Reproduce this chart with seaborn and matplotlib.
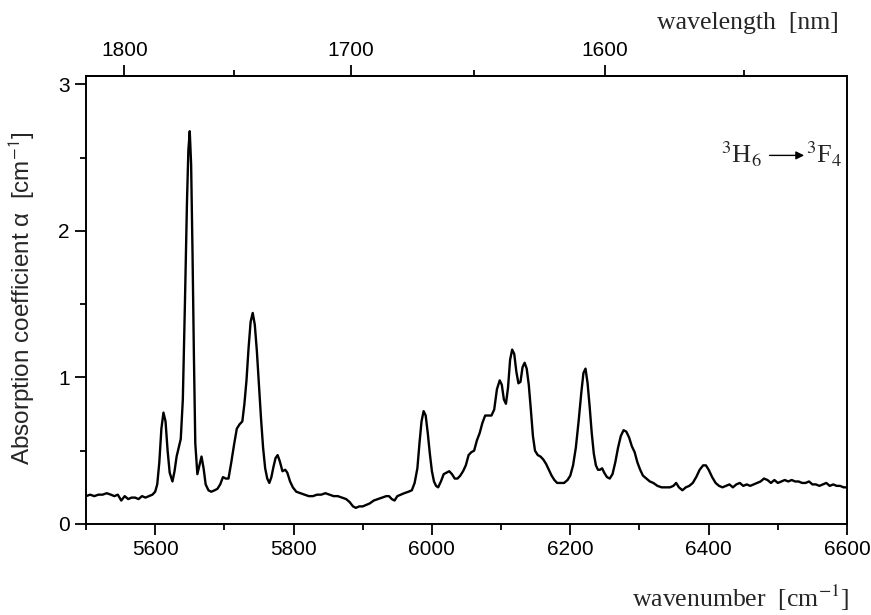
import numpy as np
import pandas as pd
import seaborn as sns
import matplotlib.pyplot as plt
from matplotlib.ticker import MultipleLocator, FixedLocator

# absorption spectrum
wavenumber = [
    5500, 5506, 5512, 5518, 5524, 5530, 5536, 5541, 5546, 5551, 5556, 5561, 5566, 5571, 5576,
    5581, 5586, 5591, 5596, 5600, 5603, 5606, 5609, 5612, 5615, 5618, 5621, 5625, 5628, 5631,
    5634, 5637, 5640, 5643, 5646, 5648, 5650, 5652, 5654, 5656, 5658, 5661, 5664, 5667, 5670,
    5673, 5677, 5681, 5686, 5690, 5694, 5698, 5702, 5706, 5710, 5714, 5718, 5722, 5726, 5729,
    5732, 5735, 5738, 5741, 5744, 5747, 5750, 5753, 5756, 5759, 5762, 5765, 5768, 5771, 5774,
    5777, 5780, 5784, 5788, 5791, 5795, 5799, 5804, 5810, 5816, 5822, 5828, 5834, 5840, 5846,
    5852, 5858, 5864, 5870, 5876, 5881, 5886, 5890, 5895, 5900, 5905, 5910, 5916, 5922, 5928,
    5934, 5938, 5942, 5946, 5950, 5955, 5960, 5966, 5971, 5975, 5979, 5982, 5985, 5988, 5991,
    5994, 5997, 6000, 6003, 6006, 6009, 6013, 6017, 6021, 6025, 6029, 6033, 6037, 6041, 6045,
    6049, 6053, 6057, 6061, 6065, 6069, 6073, 6077, 6081, 6086, 6090, 6094, 6098, 6101, 6104,
    6107, 6110, 6113, 6116, 6119, 6122, 6125, 6128, 6131, 6134, 6137, 6140, 6143, 6146, 6149,
    6153, 6157, 6161, 6165, 6169, 6173, 6177, 6181, 6186, 6191, 6196, 6200, 6204, 6208, 6212,
    6216, 6219, 6222, 6225, 6228, 6231, 6234, 6237, 6240, 6243, 6246, 6249, 6253, 6257, 6261,
    6265, 6269, 6273, 6277, 6281, 6285, 6289, 6293, 6297, 6301, 6305, 6310, 6315, 6320, 6326,
    6332, 6338, 6344, 6349, 6353, 6357, 6362, 6367, 6372, 6377, 6382, 6387, 6392, 6396, 6400,
    6405, 6410, 6415, 6420, 6425, 6430, 6435, 6440, 6445, 6450, 6455, 6460, 6465, 6470, 6475,
    6480, 6485, 6490, 6495, 6500, 6505, 6510, 6515, 6520, 6525, 6530, 6535, 6540, 6545, 6550,
    6555, 6560, 6565, 6570, 6575, 6580, 6585, 6590, 6595, 6600,
]
alpha = [
    0.19, 0.20, 0.19, 0.20, 0.20, 0.21, 0.20, 0.19, 0.20, 0.16, 0.19, 0.17, 0.18, 0.18, 0.17,
    0.19, 0.18, 0.19, 0.20, 0.22, 0.27, 0.42, 0.65, 0.76, 0.70, 0.50, 0.35, 0.29, 0.36, 0.46,
    0.52, 0.58, 0.85, 1.50, 2.20, 2.55, 2.68, 2.45, 1.85, 1.15, 0.55, 0.34, 0.40, 0.46, 0.38,
    0.27, 0.23, 0.22, 0.23, 0.24, 0.27, 0.32, 0.31, 0.31, 0.42, 0.54, 0.65, 0.68, 0.70, 0.82,
    0.98, 1.20, 1.38, 1.44, 1.36, 1.18, 0.95, 0.72, 0.52, 0.38, 0.31, 0.28, 0.32, 0.39, 0.45,
    0.47, 0.43, 0.36, 0.37, 0.35, 0.29, 0.25, 0.22, 0.21, 0.20, 0.19, 0.19, 0.20, 0.20, 0.21,
    0.20, 0.19, 0.19, 0.18, 0.17, 0.15, 0.12, 0.11, 0.12, 0.12, 0.13, 0.14, 0.16, 0.17, 0.18,
    0.19, 0.19, 0.17, 0.16, 0.19, 0.20, 0.21, 0.22, 0.23, 0.28, 0.38, 0.55, 0.70, 0.77, 0.74,
    0.62, 0.48, 0.36, 0.29, 0.26, 0.25, 0.29, 0.34, 0.35, 0.36, 0.34, 0.31, 0.31, 0.33, 0.36,
    0.40, 0.47, 0.49, 0.50, 0.57, 0.62, 0.69, 0.74, 0.74, 0.74, 0.78, 0.92, 0.98, 0.95, 0.85,
    0.82, 0.93, 1.12, 1.19, 1.16, 1.04, 0.96, 0.97, 1.07, 1.10, 1.06, 0.95, 0.78, 0.60, 0.50,
    0.47, 0.46, 0.44, 0.41, 0.37, 0.33, 0.30, 0.28, 0.28, 0.28, 0.30, 0.33, 0.40, 0.52, 0.70,
    0.90, 1.03, 1.06, 0.96, 0.80, 0.62, 0.48, 0.40, 0.37, 0.37, 0.38, 0.35, 0.32, 0.31, 0.34,
    0.42, 0.52, 0.60, 0.64, 0.63, 0.59, 0.53, 0.49, 0.42, 0.37, 0.33, 0.31, 0.29, 0.28, 0.26,
    0.25, 0.25, 0.25, 0.26, 0.28, 0.25, 0.23, 0.25, 0.26, 0.28, 0.32, 0.37, 0.40, 0.40, 0.37,
    0.32, 0.28, 0.26, 0.25, 0.26, 0.27, 0.25, 0.27, 0.28, 0.26, 0.27, 0.26, 0.27, 0.28, 0.29,
    0.31, 0.30, 0.28, 0.30, 0.28, 0.29, 0.30, 0.29, 0.30, 0.29, 0.29, 0.28, 0.28, 0.29, 0.27,
    0.27, 0.26, 0.27, 0.28, 0.26, 0.27, 0.26, 0.26, 0.25, 0.25,
]
wl_major = [1800, 1700, 1600]
wl_minor = [1750, 1650, 1550]

sns.set_style("ticks")
plt.rcParams['font.family'] = ['Liberation Sans', 'DejaVu Sans']
plt.rcParams['mathtext.fontset'] = 'stix'

df = pd.DataFrame({"wn": wavenumber, "a": alpha})

fig = plt.figure(figsize=(8.71, 6.15), dpi=100)
ax = fig.add_axes([0.0987, 0.148, 0.8738, 0.728])
sns.lineplot(data=df, x="wn", y="a", color="black", lw=1.7, ax=ax, sort=False)

ax.set_xlim(5500, 6600)
ax.set_ylim(0, 3.055)
ax.xaxis.set_major_locator(MultipleLocator(200))
ax.xaxis.set_minor_locator(MultipleLocator(100))
ax.yaxis.set_major_locator(MultipleLocator(1))
ax.yaxis.set_minor_locator(MultipleLocator(0.5))
ax.tick_params(which="both", direction="out", width=1.3, labelsize=15, colors="black")
ax.tick_params(which="major", length=8)
ax.tick_params(which="minor", length=4.5)
for s in ax.spines.values():
    s.set_linewidth(1.4)
    s.set_color("black")
ax.set_xlabel("")
ax.set_ylabel(r"Absorption coefficient α  [cm$^{\mathsf{-1}}$]", fontsize=17.5)
ax.yaxis.set_label_coords(-0.064, 0.505)


def to_wl(x):
    with np.errstate(divide="ignore"):
        return 1e7 / np.asarray(x, dtype=float)


top = ax.secondary_xaxis("top", functions=(to_wl, to_wl))
top.xaxis.set_major_locator(FixedLocator(wl_major))
top.xaxis.set_minor_locator(FixedLocator(wl_minor))
top.tick_params(which="both", direction="out", width=1.3, labelsize=15, colors="black")
top.tick_params(which="major", length=8)
top.tick_params(which="minor", length=4.5)
top.spines["top"].set_linewidth(1.4)

serif = ["Liberation Serif", "DejaVu Serif"]
fig.text(0.963, 0.963, "wavelength  [nm]", ha="right", va="center",
         fontsize=18.5, family=serif)
fig.text(0.975, 0.028, r"wavenumber  [cm$^{-1}$]", ha="right", va="center",
         fontsize=18.5, family=serif)

ax.text(6447, 2.52, r"$^{3}$H$_{6}$", ha="center", va="center", fontsize=19, family=serif)
ax.text(6567, 2.52, r"$^{3}$F$_{4}$", ha="center", va="center", fontsize=19, family=serif)
ax.annotate("", xy=(6542, 2.515), xytext=(6484, 2.515),
            arrowprops=dict(arrowstyle="-|>", color="black", lw=1.0, mutation_scale=12))

fig.savefig("out.png", dpi=100)
